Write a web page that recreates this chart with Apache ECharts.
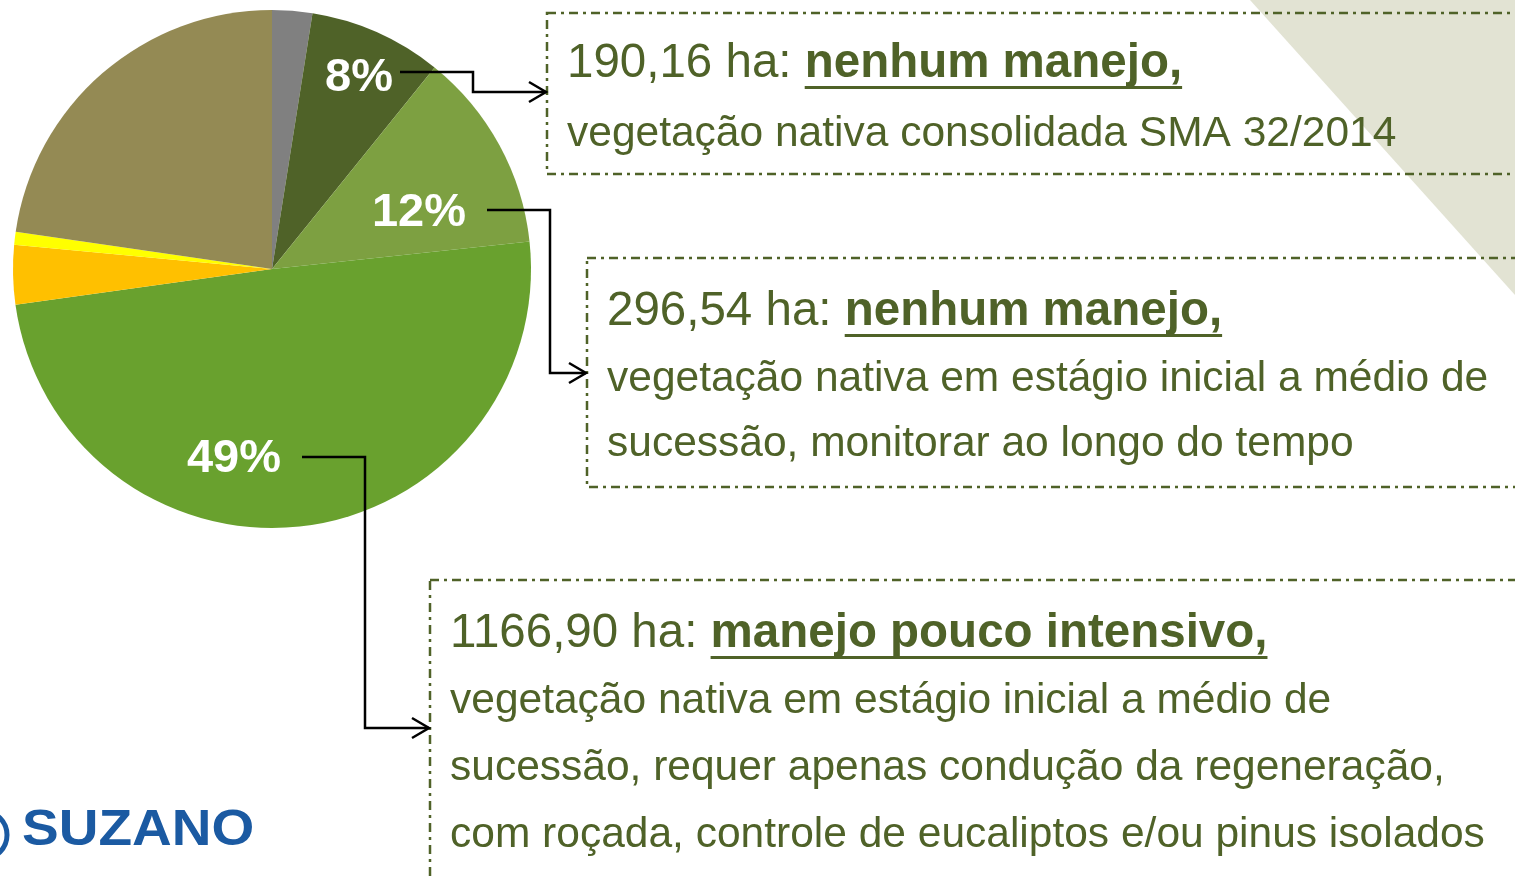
<!DOCTYPE html>
<html>
<head>
<meta charset="utf-8">
<script src="https://cdn.jsdelivr.net/npm/echarts@6/dist/echarts.min.js"></script>
<style>
  html, body { margin: 0; padding: 0; background: #fff; }
  #chart { width: 1515px; height: 876px; }
</style>
</head>
<body>
<div id="chart"></div>
<script>
// fatias (% da área), sentido horário a partir do topo
const sliceNames = ['Outros', 'Nenhum manejo - consolidada', 'Nenhum manejo - inicial a médio',
  'Manejo pouco intensivo', 'Classe laranja', 'Classe amarela', 'Classe cáqui'];
const sliceValues = [2.5, 8.3, 12.5, 49.5, 3.7, 0.8, 22.7];
const sliceLabels = ['', '8%', '12%', '49%', '', '', ''];
const sliceColors = ['#808080', '#4F6228', '#7DA041', '#69A12E', '#FFC000', '#FFFF00', '#948A54'];

// textos das caixas
const boxArea = ['190,16 ha: ', '296,54 ha: ', '1166,90 ha: '];
const boxTitle = ['nenhum manejo,', 'nenhum manejo,', 'manejo pouco intensivo,'];
const boxLines = [
  ['vegetação nativa consolidada SMA 32/2014'],
  ['vegetação nativa em estágio inicial a médio de', 'sucessão, monitorar ao longo do tempo'],
  ['vegetação nativa em estágio inicial a médio de', 'sucessão, requer apenas condução da regeneração,',
   'com roçada, controle de eucaliptos e/ou pinus isolados']
];

const FONT = '"Liberation Sans", Arial, sans-serif';
const TEXT_COLOR = '#4F6228';
const labelPos = { 1: [359, 78], 2: [419, 213], 3: [234, 459] };

// caixas: borda, x do texto e linhas de base
const boxes = [
  { x: 547, y: 13, h: 161, tx: 567, base: [77, 146] },
  { x: 587, y: 258, h: 229, tx: 607, base: [325, 391, 456] },
  { x: 430, y: 580, h: 400, tx: 450, base: [647, 713, 780, 847] }
];
// conectores (linha + seta)
const arrows = [
  [[400, 72], [473, 72], [473, 92], [546, 92]],
  [[487, 210], [550, 210], [550, 373], [586, 373]],
  [[302, 457], [365, 457], [365, 728], [429, 728]]
];

const ctx = document.createElement('canvas').getContext('2d');
function textW(str, font) { ctx.font = font; return ctx.measureText(str).width; }

const graphics = [];
graphics.push({
  type: 'polygon', z: 0,
  shape: { points: [[1250, 0], [1515, 0], [1515, 295]] },
  style: { fill: '#E2E3D3' }
});

boxes.forEach((b, i) => {
  graphics.push({
    type: 'rect', z: 1,
    shape: { x: b.x, y: b.y, width: 1200, height: b.h },
    style: { fill: 'none', stroke: TEXT_COLOR, lineWidth: 2.5, lineDash: [9, 5, 3, 5] }
  });
  const f1 = '47.5px ' + FONT, f1b = 'bold 47.5px ' + FONT, f2 = '42.5px ' + FONT;
  const w1 = textW(boxArea[i], f1);
  const wb = textW(boxTitle[i], f1b);
  graphics.push({
    type: 'text', z: 2, x: b.tx, y: b.base[0] - 13,
    style: { text: boxArea[i], font: f1, fill: TEXT_COLOR, textVerticalAlign: 'middle', verticalAlign: 'middle' }
  });
  graphics.push({
    type: 'text', z: 2, x: b.tx + w1, y: b.base[0] - 13,
    style: { text: boxTitle[i], font: f1b, fill: TEXT_COLOR, textVerticalAlign: 'middle', verticalAlign: 'middle' }
  });
  graphics.push({
    type: 'rect', z: 2,
    shape: { x: b.tx + w1, y: b.base[0] + 9, width: wb, height: 3 },
    style: { fill: TEXT_COLOR }
  });
  boxLines[i].forEach((line, j) => {
    graphics.push({
      type: 'text', z: 2, x: b.tx, y: b.base[j + 1] - 12,
      style: { text: line, font: f2, fill: TEXT_COLOR, textVerticalAlign: 'middle', verticalAlign: 'middle' }
    });
  });
});

arrows.forEach(pts => {
  graphics.push({
    type: 'polyline', z: 3, shape: { points: pts },
    style: { stroke: '#000', lineWidth: 2.5, fill: 'none' }
  });
  const tip = pts[pts.length - 1];
  graphics.push({
    type: 'polyline', z: 3,
    shape: { points: [[tip[0] - 17, tip[1] - 10], tip, [tip[0] - 17, tip[1] + 10]] },
    style: { stroke: '#000', lineWidth: 2.5, fill: 'none' }
  });
});

// logo
graphics.push({
  type: 'text', z: 2, x: 22, y: 831, scaleX: 1.1,
  style: { text: 'SUZANO', font: 'bold 50px ' + FONT, fill: '#1B5AA2', textVerticalAlign: 'middle', verticalAlign: 'middle' }
});
graphics.push({
  type: 'arc', z: 2,
  shape: { cx: -17, cy: 835, r: 24, startAngle: -Math.PI / 2, endAngle: Math.PI / 2 },
  style: { stroke: '#1B5AA2', lineWidth: 5, fill: 'none' }
});

const chart = echarts.init(document.getElementById('chart'));
chart.setOption({
  animation: false,
  backgroundColor: '#fff',
  graphic: { elements: graphics },
  series: [{
    type: 'pie',
    center: [272, 269],
    radius: 259,
    startAngle: 90,
    clockwise: true,
    z: 1,
    data: sliceValues.map((v, i) => ({
      name: sliceNames[i],
      value: v,
      itemStyle: { color: sliceColors[i] },
      label: { show: !!sliceLabels[i] }
    })),
    itemStyle: { borderWidth: 0 },
    label: {
      position: 'inside',
      formatter: p => sliceLabels[p.dataIndex],
      color: '#fff',
      fontFamily: FONT,
      fontWeight: 'bold',
      fontSize: 47
    },
    labelLine: { show: false },
    labelLayout: function (params) {
      const p = labelPos[params.dataIndex];
      if (!p) return {};
      return { x: p[0], y: p[1], align: 'center', verticalAlign: 'middle' };
    },
    emphasis: { disabled: true }
  }]
});
window.addEventListener('resize', () => chart.resize());
</script>
</body>
</html>
